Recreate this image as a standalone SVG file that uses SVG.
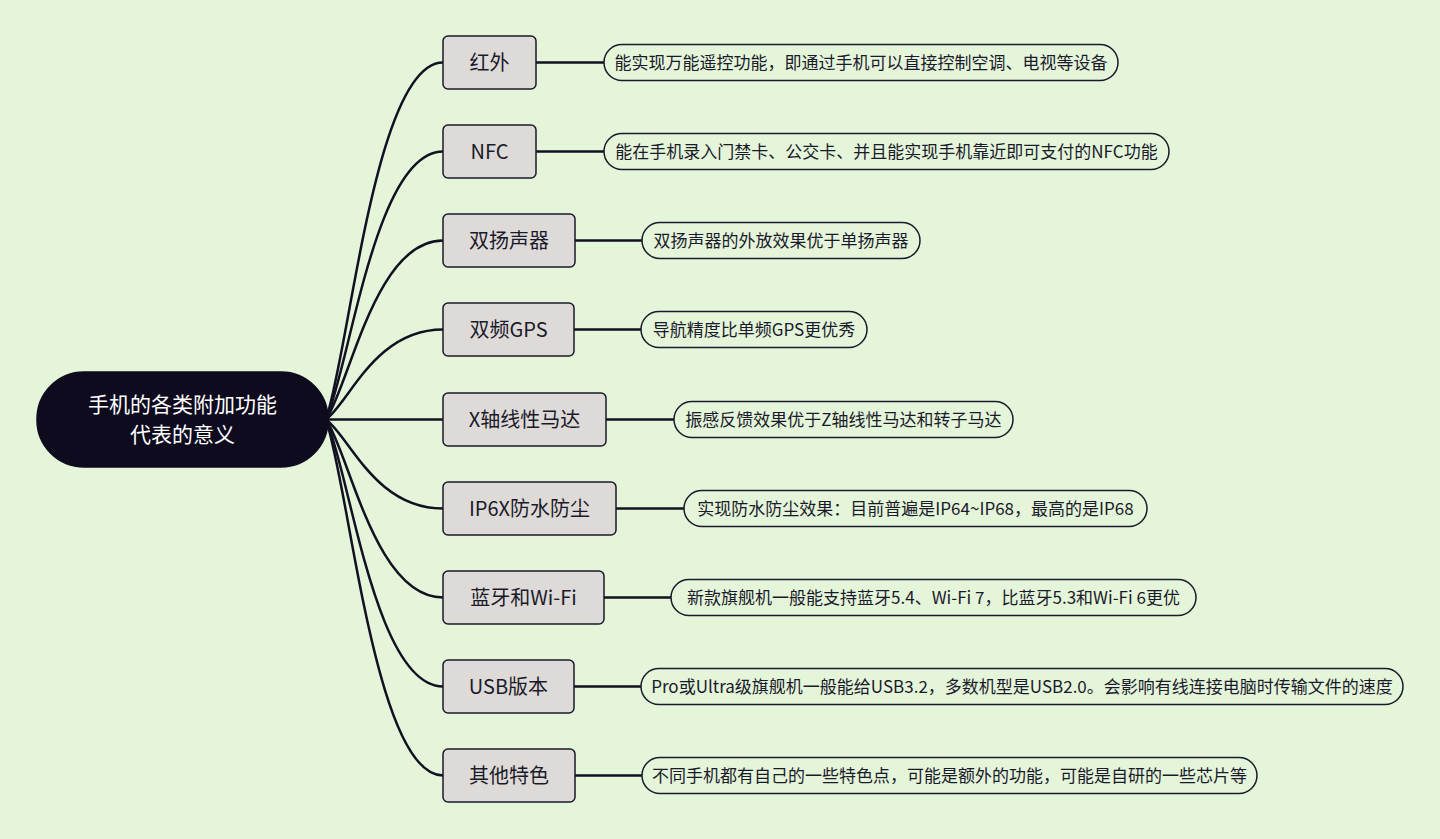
<svg xmlns="http://www.w3.org/2000/svg" width="1440" height="839" viewBox="0 0 1440 839">
<style>
.bg{fill:#E4F5DA}
.root{fill:#0E0B1F;stroke:#0E0B1F;stroke-width:1.5}
.rt{fill:#FFFFFF;font-family:"Noto Sans CJK SC","Microsoft YaHei",sans-serif;font-size:21px;text-anchor:middle}
.br{fill:#DEDAD8;stroke:#1A1A2A;stroke-width:1.5}
.bt{fill:#1A1A2A;font-family:"Noto Sans CJK SC",sans-serif;font-size:20px;text-anchor:middle}
.lf{fill:#E4F5DA;stroke:#1A1A2A;stroke-width:1.5}
.lt{fill:#1A1A2A;font-family:"Noto Sans CJK SC",sans-serif;font-size:17px;text-anchor:middle}
.cn{fill:none;stroke:#111122;stroke-width:2.5}
</style>
<rect class="bg" x="0" y="0" width="1440" height="839"/>
<g id="connectors">
<path class="cn" d="M326 419.5 C350 348.1,375 62.5,443 62.5"/>
<path class="cn" d="M326 419.5 C350 365.9,375 151.5,443 151.5"/>
<path class="cn" d="M326 419.5 C350 383.7,375 240.5,443 240.5"/>
<path class="cn" d="M326 419.5 C350 401.5,375 329.5,443 329.5"/>
<path class="cn" d="M326 419.5 L443 419.5"/>
<path class="cn" d="M326 419.5 C350 437.3,375 508.5,443 508.5"/>
<path class="cn" d="M326 419.5 C350 455.1,375 597.5,443 597.5"/>
<path class="cn" d="M326 419.5 C350 472.9,375 686.5,443 686.5"/>
<path class="cn" d="M326 419.5 C350 490.7,375 775.5,443 775.5"/>
<path class="cn" d="M536 62.5 H604"/>
<path class="cn" d="M536 151.5 H604"/>
<path class="cn" d="M575 240.5 H642"/>
<path class="cn" d="M574 329.5 H641"/>
<path class="cn" d="M606 419.5 H674"/>
<path class="cn" d="M616 508.5 H684"/>
<path class="cn" d="M604 597.5 H671"/>
<path class="cn" d="M574 686.5 H641"/>
<path class="cn" d="M575 775.5 H642"/>
</g>
<g id="root">
<rect class="root" x="37" y="372" width="291" height="95" rx="47" ry="47"/>
<text class="rt" x="182.5" y="412">手机的各类附加功能</text>
<text class="rt" x="182.5" y="442">代表的意义</text>
</g>
<g id="n1"><rect class="br" x="443" y="36" width="93" height="53" rx="5"/><text class="bt" x="489.5" y="69.5">红外</text></g>
<g id="n2"><rect class="br" x="443" y="125" width="93" height="53" rx="5"/><text class="bt" x="489.5" y="158.5">NFC</text></g>
<g id="n3"><rect class="br" x="443" y="214" width="132" height="53" rx="5"/><text class="bt" x="509" y="247.5">双扬声器</text></g>
<g id="n4"><rect class="br" x="443" y="303" width="131" height="53" rx="5"/><text class="bt" x="508.5" y="336.5">双频GPS</text></g>
<g id="n5"><rect class="br" x="443" y="393" width="163" height="53" rx="5"/><text class="bt" x="524.5" y="426.5">X轴线性马达</text></g>
<g id="n6"><rect class="br" x="443" y="482" width="173" height="53" rx="5"/><text class="bt" x="529.5" y="515.5">IP6X防水防尘</text></g>
<g id="n7"><rect class="br" x="443" y="571" width="161" height="53" rx="5"/><text class="bt" x="523.5" y="604.5">蓝牙和Wi-Fi</text></g>
<g id="n8"><rect class="br" x="443" y="660" width="131" height="53" rx="5"/><text class="bt" x="508.5" y="693.5">USB版本</text></g>
<g id="n9"><rect class="br" x="443" y="749" width="132" height="53" rx="5"/><text class="bt" x="509" y="782.5">其他特色</text></g>
<g id="l1"><rect class="lf" x="604" y="44.5" width="514" height="36" rx="18"/><text class="lt" x="861" y="68.5">能实现万能遥控功能，即通过手机可以直接控制空调、电视等设备</text></g>
<g id="l2"><rect class="lf" x="604" y="133.5" width="565" height="36" rx="18"/><text class="lt" x="886.5" y="157.5">能在手机录入门禁卡、公交卡、并且能实现手机靠近即可支付的NFC功能</text></g>
<g id="l3"><rect class="lf" x="642" y="222.5" width="278" height="36" rx="18"/><text class="lt" x="781" y="246.5">双扬声器的外放效果优于单扬声器</text></g>
<g id="l4"><rect class="lf" x="641" y="311.5" width="226" height="36" rx="18"/><text class="lt" x="754" y="335.5">导航精度比单频GPS更优秀</text></g>
<g id="l5"><rect class="lf" x="674" y="401.5" width="339" height="36" rx="18"/><text class="lt" x="843.5" y="425.5">振感反馈效果优于Z轴线性马达和转子马达</text></g>
<g id="l6"><rect class="lf" x="684" y="490.5" width="463" height="36" rx="18"/><text class="lt" x="915.5" y="514.5">实现防水防尘效果：目前普遍是IP64~IP68，最高的是IP68</text></g>
<g id="l7"><rect class="lf" x="671" y="579.5" width="525" height="36" rx="18"/><text class="lt" x="933.5" y="603.5">新款旗舰机一般能支持蓝牙5.4、Wi-Fi 7，比蓝牙5.3和Wi-Fi 6更优</text></g>
<g id="l8"><rect class="lf" x="641" y="668.5" width="762" height="36" rx="18"/><text class="lt" x="1022" y="692.5">Pro或Ultra级旗舰机一般能给USB3.2，多数机型是USB2.0。会影响有线连接电脑时传输文件的速度</text></g>
<g id="l9"><rect class="lf" x="642" y="757.5" width="615" height="36" rx="18"/><text class="lt" x="949.5" y="781.5">不同手机都有自己的一些特色点，可能是额外的功能，可能是自研的一些芯片等</text></g>
</svg>
